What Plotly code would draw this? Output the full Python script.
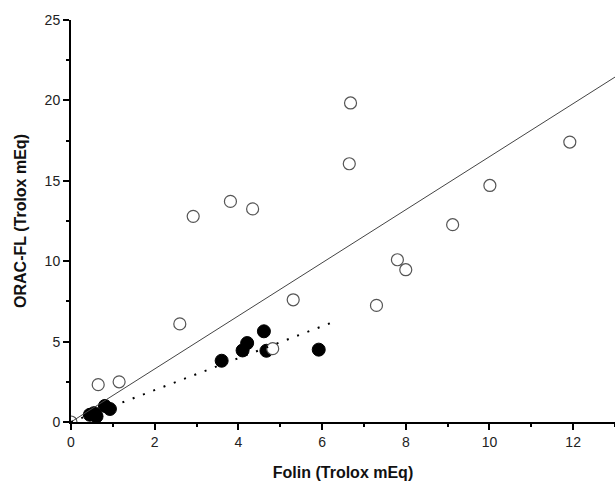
import plotly.graph_objects as go

# Open circles
open_x = [0.0, 0.65, 1.15, 2.6, 2.92, 3.81, 4.34, 4.82, 5.31, 6.68, 6.65, 7.30, 7.80, 8.0, 9.12, 10.01, 11.92]
open_y = [0.0, 2.32, 2.5, 6.1, 12.79, 13.72, 13.25, 4.56, 7.6, 19.84, 16.06, 7.25, 10.09, 9.47, 12.27, 14.71, 17.41]

# Filled circles
fill_x = [0.45, 0.55, 0.61, 0.81, 0.93, 3.6, 4.1, 4.21, 4.61, 4.67, 5.92]
fill_y = [0.45, 0.55, 0.35, 1.0, 0.81, 3.81, 4.45, 4.91, 5.64, 4.43, 4.5]

# Regression lines
fit_open_x = [0, 13]
fit_open_y = [0, 21.45]
fit_fill_x = [0, 6.35]
fit_fill_y = [0, 6.3]

x_ticks = [0, 2, 4, 6, 8, 10, 12]
y_ticks = [0, 5, 10, 15, 20, 25]

fig = go.Figure()
fig.add_trace(go.Scatter(x=fill_x, y=fill_y, mode="markers",
                         marker=dict(symbol="circle", size=13, color="black",
                                     line=dict(color="black", width=1))))
fig.add_trace(go.Scatter(x=open_x, y=open_y, mode="markers",
                         marker=dict(symbol="circle", size=12, color="white",
                                     line=dict(color="#555555", width=1.2))))
fig.add_trace(go.Scatter(x=fit_open_x, y=fit_open_y, mode="lines",
                         line=dict(color="#444444", width=1)))
fig.add_trace(go.Scatter(x=fit_fill_x, y=fit_fill_y, mode="lines",
                         line=dict(color="black", width=2, dash="2px,9px")))

axis_common = dict(showgrid=False, zeroline=False, showline=True, linecolor="black",
                   linewidth=2, ticks="outside", ticklen=6, tickwidth=1.5, tickcolor="black",
                   tickfont=dict(family="Liberation Sans, Arial", size=14, color="#222222"),
                   mirror=False, automargin=False)

fig.update_xaxes(range=[0, 13], tickvals=x_ticks, ticktext=[str(t) for t in x_ticks],
                 minor=dict(dtick=1, tick0=0, ticks="outside", ticklen=3, tickwidth=1.5, tickcolor="black"),
                 title=dict(text="<b>Folin (Trolox mEq)</b>", standoff=18,
                            font=dict(family="Liberation Sans, Arial", size=16, color="#111111")),
                 **axis_common)
fig.update_yaxes(range=[0, 25], tickvals=y_ticks, ticktext=[str(t) for t in y_ticks],
                 minor=dict(dtick=2.5, tick0=0, ticks="outside", ticklen=3, tickwidth=1.5, tickcolor="black"),
                 title=dict(text="<b>ORAC-FL (Trolox mEq)</b>", standoff=14,
                            font=dict(family="Liberation Sans, Arial", size=16, color="#111111")),
                 **axis_common)

fig.update_layout(width=615, height=482, margin=dict(l=71, r=0, t=20, b=60),
                  plot_bgcolor="white", paper_bgcolor="white", showlegend=False)

fig.write_html("out.html", config={"displayModeBar": False},
               post_script="document.body.style.margin='0';document.body.style.overflow='hidden';")
